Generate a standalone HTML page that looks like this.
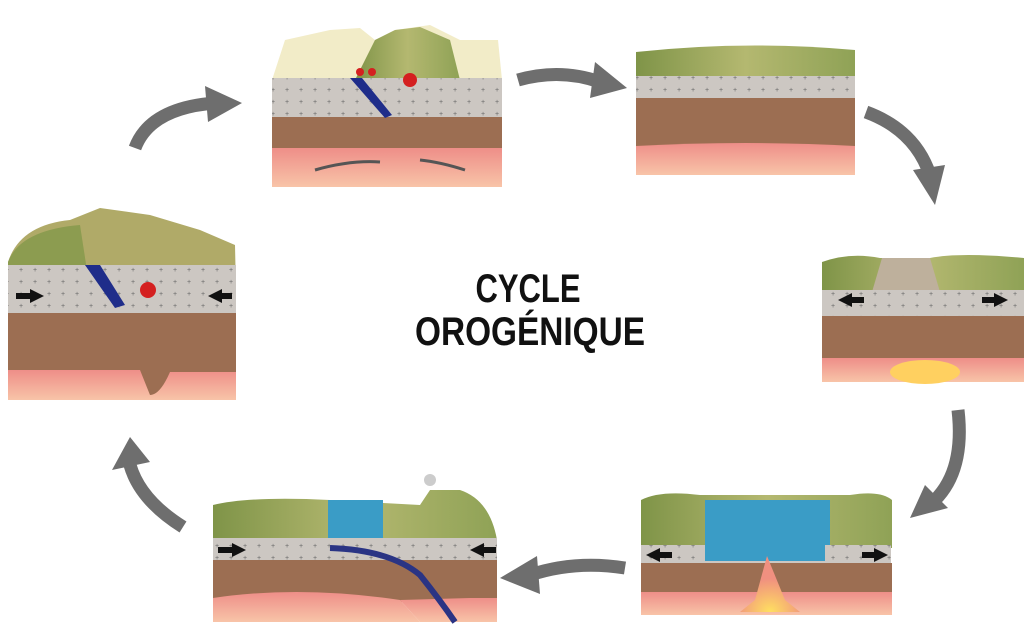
<!DOCTYPE html>
<html><head><meta charset="utf-8"><style>
html,body{margin:0;padding:0;background:#fff;width:1024px;height:630px;overflow:hidden}
svg{display:block}
</style></head><body>
<svg width="1024" height="630" viewBox="0 0 1024 630" xmlns="http://www.w3.org/2000/svg">
<defs>
<linearGradient id="grn" x1="0" x2="1"><stop offset="0" stop-color="#7f9448"/><stop offset="0.5" stop-color="#b4b870"/><stop offset="1" stop-color="#8fa256"/></linearGradient>
<linearGradient id="pk" x1="0" y1="0" x2="0" y2="1"><stop offset="0" stop-color="#ee8e88"/><stop offset="1" stop-color="#f8c4a8"/></linearGradient>
<radialGradient id="yl" cx="0.5" cy="1" r="0.6"><stop offset="0" stop-color="#ffe060"/><stop offset="1" stop-color="#f09080"/></radialGradient>
<pattern id="dots" width="14" height="12" patternUnits="userSpaceOnUse"><rect width="14" height="12" fill="#ccc7c2"/><text x="5" y="8" font-size="7" fill="#666" font-family="Liberation Sans">+</text></pattern>
</defs>

<g fill="none" stroke="#6e6e6e" stroke-width="13">
<path d="M135,148 Q150,108 215,103"/>
<path d="M518,80 Q560,68 600,82"/>
<path d="M866,112 Q915,130 930,175"/>
<path d="M958,410 Q965,470 935,500"/>
<path d="M625,568 Q575,560 530,575"/>
<path d="M183,527 Q140,500 130,465"/>
</g>
<g fill="#6e6e6e">
<polygon points="205,86 242,103 208,122"/>
<polygon points="595,62 627,88 590,98"/>
<polygon points="913,170 945,165 935,205"/>
<polygon points="925,485 948,508 910,518"/>
<polygon points="537,556 500,578 540,594"/>
<polygon points="112,470 130,437 150,462"/>
</g>

<!-- top center block -->
<polygon points="272,80 285,40 330,30 360,28 375,40 395,30 430,25 460,40 498,40 502,80" fill="#f2ecc8"/>
<polygon points="355,80 375,40 395,30 420,27 450,40 460,80" fill="url(#grn)"/>
<rect x="272" y="78" width="230" height="42" fill="url(#dots)"/>
<rect x="272" y="117" width="230" height="33" fill="#9c6e52"/>
<rect x="272" y="148" width="230" height="39" fill="url(#pk)"/>
<polygon points="350,78 362,78 392,115 385,118" fill="#1f2d8a"/>
<circle cx="410" cy="80" r="7" fill="#d42020"/><circle cx="360" cy="72" r="4" fill="#d42020"/><circle cx="372" cy="72" r="4" fill="#d42020"/>
<path d="M315,170 Q350,160 380,162 M465,170 Q440,162 420,160" stroke="#555" stroke-width="3" fill="none"/>

<!-- top right -->
<path d="M636,52 Q745,40 855,50 L855,76 L636,78 Z" fill="url(#grn)"/>
<rect x="636" y="76" width="219" height="24" fill="url(#dots)"/>
<rect x="636" y="98" width="219" height="50" fill="#9c6e52"/>
<path d="M636,146 Q745,140 855,146 L855,175 L636,175 Z" fill="url(#pk)"/>

<!-- right middle -->
<path d="M822,262 Q850,252 880,258 L930,258 Q960,252 1024,258 L1024,292 L822,292 Z" fill="url(#grn)"/>
<polygon points="882,258 930,258 940,292 872,292" fill="#beb09c"/>
<rect x="822" y="290" width="202" height="28" fill="url(#dots)"/>
<rect x="822" y="316" width="202" height="46" fill="#9c6e52"/>
<rect x="822" y="358" width="202" height="24" fill="url(#pk)"/>
<ellipse cx="925" cy="372" rx="35" ry="12" fill="#ffd060"/>
<polygon points="838,300 852,293 852,307" fill="#111"/><rect x="850" y="297" width="14" height="6" fill="#111"/>
<polygon points="1008,300 994,293 994,307" fill="#111"/><rect x="982" y="297" width="14" height="6" fill="#111"/>

<!-- bottom right -->
<path d="M641,500 Q660,490 700,495 L850,495 Q880,490 892,500 L892,548 L641,548 Z" fill="url(#grn)"/>
<rect x="705" y="500" width="125" height="55" fill="#3a9cc6"/>
<rect x="641" y="545" width="250" height="20" fill="url(#dots)"/>
<rect x="705" y="545" width="120" height="16" fill="#3a9cc6"/>
<rect x="641" y="563" width="251" height="40" fill="#9c6e52"/>
<rect x="641" y="592" width="251" height="23" fill="url(#pk)"/>
<polygon points="767,556 755,600 740,612 800,612 785,600" fill="url(#yl)"/>
<polygon points="646,555 660,548 660,562" fill="#111"/><rect x="658" y="552" width="14" height="6" fill="#111"/>
<polygon points="888,555 874,548 874,562" fill="#111"/><rect x="862" y="552" width="14" height="6" fill="#111"/>

<!-- bottom center -->
<path d="M213,505 Q250,496 330,500 L420,505 L430,490 L460,490 Q490,500 497,540 L213,540 Z" fill="url(#grn)"/>
<rect x="328" y="500" width="55" height="50" fill="#3a9cc6"/>
<circle cx="430" cy="480" r="6" fill="#ccc"/>
<rect x="213" y="538" width="284" height="24" fill="url(#dots)"/>
<rect x="213" y="560" width="284" height="42" fill="#9c6e52"/>
<path d="M213,598 Q300,585 400,600 L420,622 L213,622 Z" fill="url(#pk)"/>
<path d="M400,600 L470,598 L497,598 L497,622 L420,622 Z" fill="url(#pk)"/>
<path d="M330,548 Q390,550 420,575 Q440,600 455,622" stroke="#2a3484" stroke-width="6" fill="none"/>
<polygon points="246,550 232,543 232,557" fill="#111"/><rect x="218" y="547" width="16" height="6" fill="#111"/>
<polygon points="470,550 484,543 484,557" fill="#111"/><rect x="482" y="547" width="14" height="6" fill="#111"/>

<!-- left -->
<path d="M8,262 Q20,225 70,220 L100,208 L150,215 L200,230 L235,245 L236,290 L8,290 Z" fill="#b0aa68"/>
<path d="M8,262 Q20,230 80,225 L90,290 L8,290 Z" fill="#8c9c50"/>
<rect x="8" y="265" width="228" height="50" fill="url(#dots)"/>
<rect x="8" y="313" width="228" height="60" fill="#9c6e52"/>
<rect x="8" y="370" width="228" height="30" fill="url(#pk)"/>
<path d="M140,370 L236,370 L236,372 L170,372 Q160,395 150,395 Z" fill="#9c6e52"/>
<polygon points="85,265 100,265 125,305 115,308" fill="#1f2d8a"/>
<circle cx="148" cy="290" r="8" fill="#d42020"/>
<polygon points="44,296 30,289 30,303" fill="#111"/><rect x="16" y="293" width="16" height="6" fill="#111"/>
<polygon points="208,296 222,289 222,303" fill="#111"/><rect x="218" y="293" width="14" height="6" fill="#111"/>

<g font-family="'Liberation Sans Narrow','Liberation Sans',sans-serif" font-weight="bold" font-size="40" fill="#111" text-anchor="middle">
<text x="528" y="302" textLength="105" lengthAdjust="spacingAndGlyphs">CYCLE</text>
<text x="530" y="345" textLength="230" lengthAdjust="spacingAndGlyphs">OROGÉNIQUE</text>
</g>
</svg>
</body></html>
